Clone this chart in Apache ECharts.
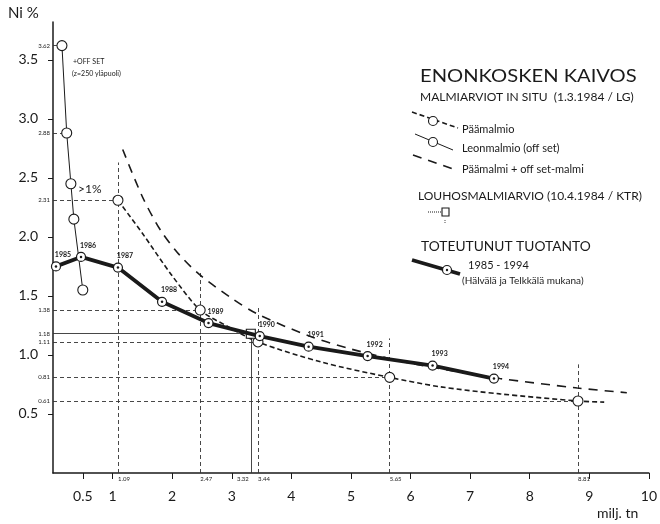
<!DOCTYPE html>
<html>
<head>
<meta charset="utf-8">
<script src="https://cdn.jsdelivr.net/npm/echarts@6/dist/echarts.min.js"></script>
<style>
  html, body { margin: 0; padding: 0; background: #fff; }
  #chart { width: 660px; height: 524px; }
</style>
</head>
<body>
<div id="chart"></div>
<script>
// toteutunut tuotanto 1985 - 1994
var years = ['1985', '1986', '1987', '1988', '1989', '1990', '1991', '1992', '1993', '1994']
var prodX = [0.05, 0.47, 1.09, 1.83, 2.61, 3.47, 4.29, 5.28, 6.37, 7.40]
var prodY = [1.75, 1.83, 1.74, 1.45, 1.27, 1.16, 1.07, 0.99, 0.91, 0.80]

// Leonmalmio (off set)
var leonX = [0.15, 0.23, 0.30, 0.35, 0.50]
var leonY = [3.62, 2.88, 2.45, 2.15, 1.55]

// Päämalmio, curve and the marked points
var paaX = [1.09, 1.5, 2.0, 2.47, 2.9, 3.44, 4.5, 5.65, 6.5, 7.5, 8.81, 9.25]
var paaY = [2.31, 2.03, 1.67, 1.38, 1.25, 1.11, 0.94, 0.81, 0.73, 0.67, 0.61, 0.60]
var paaPtX = [1.09, 2.47, 3.44, 5.65, 8.81]
var paaPtY = [2.31, 1.38, 1.11, 0.81, 0.61]
var paaVTop = [2.63, 1.70, 1.42, 1.14, 0.92]

// Päämalmi + off set-malmi
var comboX = [1.17, 1.5, 1.8, 2.1, 2.46, 3.0, 3.42, 4.3, 5.0, 6.0, 7.0, 7.5, 8.8, 9.63]
var comboY = [2.74, 2.34, 2.06, 1.86, 1.68, 1.48, 1.35, 1.16, 1.05, 0.93, 0.84, 0.80, 0.72, 0.68]

// louhosmalmiarvio
var louhos = [3.32, 1.18]

var xTickLabels = [0.5, 1, 2, 3, 4, 5, 6, 7, 8, 9, 10]
var yTickLabels = [0.5, 1.0, 1.5, 2.0, 2.5, 3.0, 3.5]

var FONT = 'Lato'
var INK = '#1a1a1a'

function zip(xs, ys) {
  return xs.map(function(x, i) { return [x, ys[i]] })
}

var chart = echarts.init(document.getElementById('chart'))

// apuviivat akseleilta pisteisiin
var refLines = []
function hLine(x, y, type) {
  refLines.push([
    { coord: [0, y], lineStyle: { type: type }, label: { formatter: y.toFixed(2), position: 'start' } },
    { coord: [x, y] }
  ])
}
function vLine(x, yTop, type, off) {
  refLines.push([
    { coord: [x, 0], lineStyle: { type: type }, label: { formatter: x.toFixed(2), position: 'start', offset: off } },
    { coord: [x, yTop] }
  ])
}
hLine(leonX[0], leonY[0], 'solid')
hLine(leonX[1], leonY[1], [4, 3])
paaPtX.forEach(function(x, i) {
  hLine(x, paaPtY[i], [4, 3])
  vLine(x, paaVTop[i], [4, 3], [6, 0])
})
hLine(louhos[0], louhos[1], 'solid')
vLine(louhos[0], louhos[1], 'solid', [-8, 0])

chart.setOption({
  animation: false,
  grid: { left: 53, right: 10, top: 22, bottom: 51 },
  xAxis: {
    type: 'value',
    min: 0,
    max: 10,
    axisLine: { lineStyle: { color: INK, width: 1.5 } },
    axisTick: { length: 6, lineStyle: { color: INK }, customValues: xTickLabels },
    axisLabel: {
      customValues: xTickLabels,
      color: INK,
      fontFamily: FONT,
      fontSize: 14,
      margin: 16
    },
    splitLine: { show: false }
  },
  yAxis: {
    type: 'value',
    min: 0,
    max: 3.82,
    axisLine: { show: true, lineStyle: { color: INK, width: 1.5 } },
    axisTick: { show: true, length: 5, lineStyle: { color: INK }, customValues: yTickLabels },
    axisLabel: {
      customValues: yTickLabels,
      color: INK,
      fontFamily: FONT,
      fontSize: 14,
      margin: 15,
      formatter: function(v) { return v.toFixed(1) }
    },
    splitLine: { show: false }
  },
  series: [
    {
      name: 'apuviivat',
      type: 'line',
      data: [],
      silent: true,
      z: 1,
      markLine: {
        silent: true,
        z: 1,
        symbol: 'none',
        animation: false,
        lineStyle: { color: '#333', width: 0.9 },
        label: { color: INK, fontFamily: FONT, fontSize: 6, distance: 3 },
        data: refLines
      }
    },
    {
      name: 'Päämalmi + off set-malmi',
      type: 'line',
      smooth: 0.3,
      symbol: 'none',
      data: zip(comboX, comboY),
      lineStyle: { color: INK, width: 1.6, type: [9, 7] }
    },
    {
      name: 'Päämalmio',
      type: 'line',
      smooth: 0.3,
      symbol: 'none',
      data: zip(paaX, paaY),
      lineStyle: { color: INK, width: 1.6, type: [5, 3] }
    },
    {
      name: 'Päämalmio pisteet',
      type: 'scatter',
      symbol: 'circle',
      symbolSize: 10,
      data: zip(paaPtX, paaPtY),
      itemStyle: { color: '#fff', borderColor: INK, borderWidth: 1.1, opacity: 1 },
      z: 4
    },
    {
      name: 'Leonmalmio (off set)',
      type: 'line',
      symbol: 'circle',
      symbolSize: 10,
      showAllSymbol: true,
      data: zip(leonX, leonY),
      lineStyle: { color: INK, width: 1 },
      itemStyle: { color: '#fff', borderColor: INK, borderWidth: 1.1 },
      z: 3
    },
    {
      name: 'Toteutunut tuotanto',
      type: 'line',
      symbol: 'circle',
      symbolSize: 9,
      showAllSymbol: true,
      data: zip(prodX, prodY),
      lineStyle: { color: INK, width: 3.8 },
      itemStyle: { color: '#fff', borderColor: INK, borderWidth: 1.2 },
      label: {
        show: true,
        position: 'top',
        distance: 3,
        offset: [7, 0],
        color: INK,
        fontFamily: FONT,
        fontWeight: 'bold',
        fontSize: 7,
        formatter: function(p) { return years[p.dataIndex] }
      },
      z: 5
    },
    {
      name: 'tuotanto pisteet',
      type: 'scatter',
      symbol: 'circle',
      symbolSize: 2.5,
      data: zip(prodX, prodY),
      itemStyle: { color: INK, opacity: 1 },
      silent: true,
      z: 6
    },
    {
      name: 'Louhosmalmiarvio',
      type: 'scatter',
      symbol: 'rect',
      symbolSize: 9,
      data: [louhos],
      itemStyle: { color: '#fff', borderColor: INK, borderWidth: 1.1, opacity: 1 },
      z: 4
    }
  ],
  graphic: [
    { type: 'text', left: 8, top: 6, style: { text: 'Ni %', font: '15px Lato', fill: INK } },
    { type: 'text', left: 597, top: 506, style: { text: 'milj. tn', font: '14px Lato', fill: INK } },
    { type: 'text', left: 73, top: 58, style: { text: '+OFF SET', font: '7px Lato', fill: INK } },
    { type: 'text', left: 72, top: 70, style: { text: '(z=250 yläpuoli)', font: '7px Lato', fill: INK } },
    { type: 'text', left: 78, top: 183, style: { text: '>1%', font: '12px Lato', fill: INK } },

    { type: 'text', x: 420, y: 67, scaleX: 1.12, style: { text: 'ENONKOSKEN KAIVOS', font: '18px Lato', fill: INK } },
    { type: 'text', left: 420, top: 91, style: { text: 'MALMIARVIOT IN SITU  (1.3.1984 / LG)', font: '12px Lato', fill: INK } },

    { type: 'line', shape: { x1: 412, y1: 112, x2: 458, y2: 128 }, style: { stroke: INK, lineWidth: 1.6, lineDash: [5, 3] } },
    { type: 'circle', shape: { cx: 433, cy: 121, r: 4.5 }, style: { fill: '#fff', stroke: INK, lineWidth: 1.1 } },
    { type: 'text', left: 462, top: 124, style: { text: 'Päämalmio', font: '11px Lato', fill: INK } },

    { type: 'line', shape: { x1: 415, y1: 134, x2: 453, y2: 150 }, style: { stroke: INK, lineWidth: 1 } },
    { type: 'circle', shape: { cx: 433, cy: 142, r: 4.5 }, style: { fill: '#fff', stroke: INK, lineWidth: 1.1 } },
    { type: 'text', left: 462, top: 143, style: { text: 'Leonmalmio (off set)', font: '11px Lato', fill: INK } },

    { type: 'line', shape: { x1: 413, y1: 155, x2: 453, y2: 169 }, style: { stroke: INK, lineWidth: 1.6, lineDash: [9, 7] } },
    { type: 'text', left: 462, top: 164, style: { text: 'Päämalmi + off set-malmi', font: '11px Lato', fill: INK } },

    { type: 'text', left: 418, top: 190, style: { text: 'LOUHOSMALMIARVIO (10.4.1984 / KTR)', font: '12px Lato', fill: INK } },
    { type: 'line', shape: { x1: 428, y1: 212, x2: 442, y2: 212 }, style: { stroke: INK, lineWidth: 1, lineDash: [1, 1] } },
    { type: 'rect', shape: { x: 442, y: 208, width: 7, height: 8 }, style: { fill: '#fff', stroke: INK, lineWidth: 1.1 } },
    { type: 'line', shape: { x1: 445, y1: 220, x2: 445, y2: 224 }, style: { stroke: INK, lineWidth: 0.8, lineDash: [1, 1] } },

    { type: 'text', x: 421, y: 240, scaleX: 1.06, style: { text: 'TOTEUTUNUT TUOTANTO', font: '13px Lato', fill: INK } },
    { type: 'line', shape: { x1: 412, y1: 260, x2: 460, y2: 274 }, style: { stroke: INK, lineWidth: 3.8 } },
    { type: 'circle', shape: { cx: 447, cy: 270, r: 4.5 }, style: { fill: '#fff', stroke: INK, lineWidth: 1.2 } },
    { type: 'circle', shape: { cx: 447, cy: 270, r: 1.2 }, style: { fill: INK } },
    { type: 'text', left: 468, top: 260, style: { text: '1985 - 1994', font: '11px Lato', fill: INK } },
    { type: 'text', left: 462, top: 276, style: { text: '(Hälvälä ja Telkkälä mukana)', font: '10px Lato', fill: INK } }
  ]
})
</script>
</body>
</html>
